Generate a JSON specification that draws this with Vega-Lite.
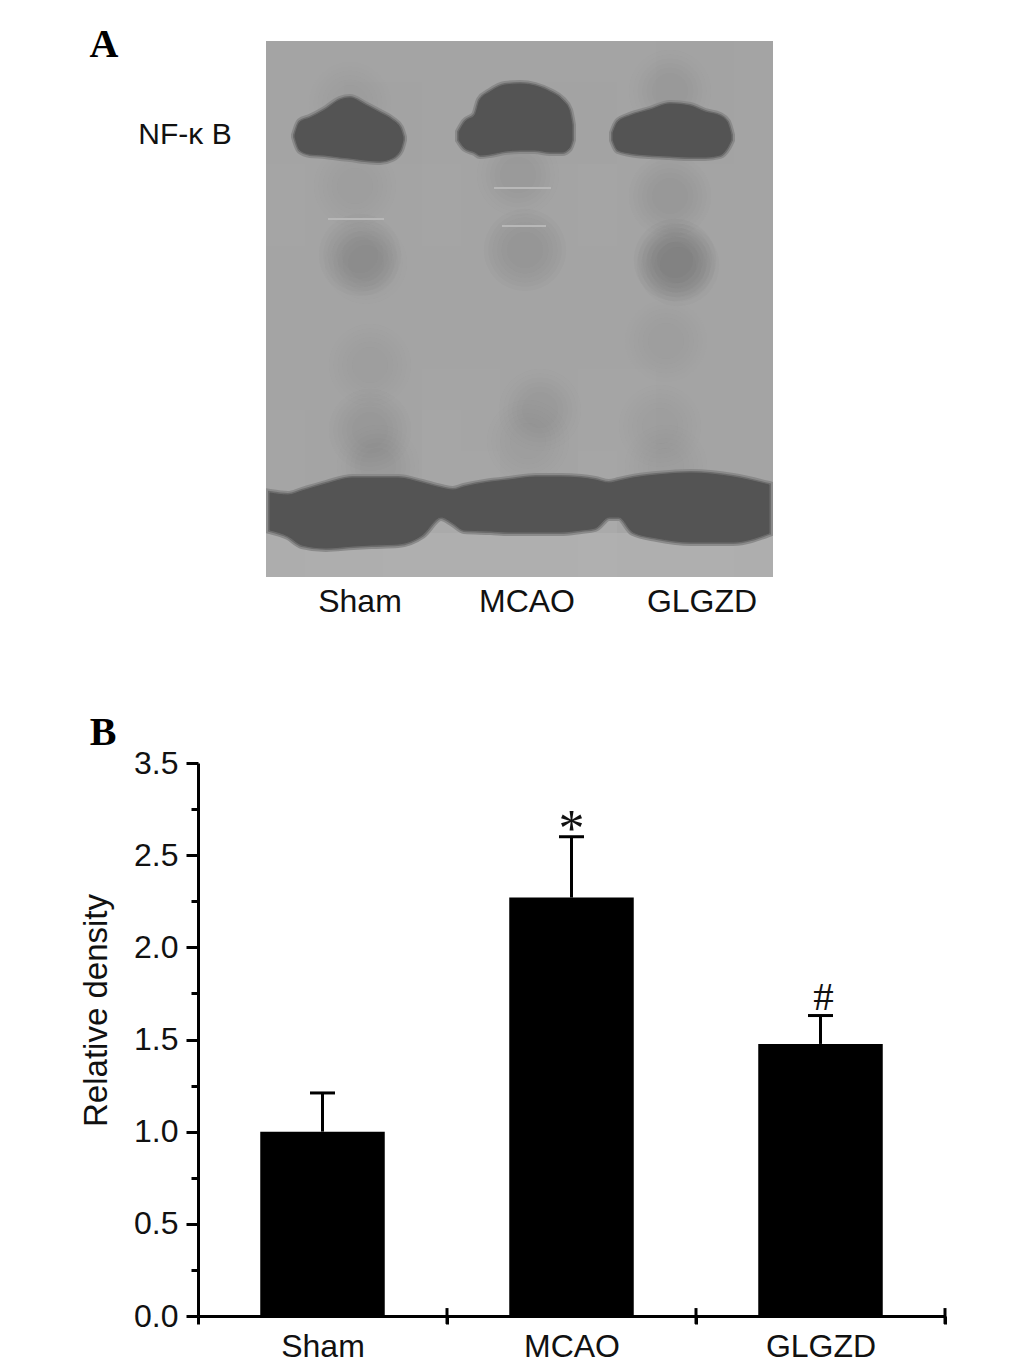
{"$schema":"https://vega.github.io/schema/vega-lite/v6.json","width":1033,"height":1367,"autosize":"none","padding":0,"background":"#ffffff","config":{"view":{"stroke":null},"text":{"font":"Liberation Sans"}},
"datasets":{
"bars":[{"group":"Sham","mean":1.0,"upper":1.21},{"group":"MCAO","mean":2.27,"upper":2.6,"note":"*","noteY":2.55},{"group":"GLGZD","mean":1.476,"upper":1.63,"note":"#","noteY":1.66}],
"edges":[{"edge":1,"lo":-0.043,"hi":0.043},{"edge":2,"lo":-0.043,"hi":0.043},{"edge":3,"lo":-0.043,"hi":0.043}],
"spots":[{"x":94,"y":214,"depth":0.09},{"x":100,"y":222,"depth":0.06},{"x":89,"y":145,"depth":0.05},{"x":104,"y":324,"depth":0.05},{"x":104,"y":389,"depth":0.07},{"x":112,"y":425,"depth":0.06},{"x":84,"y":62,"depth":0.04},{"x":259,"y":209,"depth":0.09},{"x":252,"y":134,"depth":0.06},{"x":274,"y":369,"depth":0.06},{"x":262,"y":400,"depth":0.05},{"x":409,"y":219,"depth":0.16},{"x":412,"y":224,"depth":0.14},{"x":404,"y":155,"depth":0.07},{"x":404,"y":50,"depth":0.06},{"x":400,"y":300,"depth":0.04},{"x":394,"y":385,"depth":0.05},{"x":400,"y":425,"depth":0.05}],
"bands":[
{"band":"Sham","x":29,"top":94,"bottom":96},{"band":"Sham","x":34,"top":81,"bottom":109},{"band":"Sham","x":44,"top":77,"bottom":113},{"band":"Sham","x":59,"top":69,"bottom":114},{"band":"Sham","x":74,"top":59,"bottom":116},{"band":"Sham","x":84,"top":57,"bottom":117},{"band":"Sham","x":99,"top":64,"bottom":119},{"band":"Sham","x":114,"top":72,"bottom":120},{"band":"Sham","x":126,"top":79,"bottom":117},{"band":"Sham","x":134,"top":87,"bottom":109},{"band":"Sham","x":137,"top":96,"bottom":99},
{"band":"MCAO","x":193,"top":91,"bottom":99},{"band":"MCAO","x":199,"top":81,"bottom":107},{"band":"MCAO","x":209,"top":74,"bottom":111},{"band":"MCAO","x":214,"top":59,"bottom":114},{"band":"MCAO","x":224,"top":51,"bottom":113},{"band":"MCAO","x":239,"top":44,"bottom":110},{"band":"MCAO","x":254,"top":43,"bottom":109},{"band":"MCAO","x":269,"top":45,"bottom":109},{"band":"MCAO","x":284,"top":51,"bottom":111},{"band":"MCAO","x":296,"top":59,"bottom":111},{"band":"MCAO","x":303,"top":69,"bottom":107},{"band":"MCAO","x":306,"top":84,"bottom":99},
{"band":"GLGZD","x":347,"top":92,"bottom":99},{"band":"GLGZD","x":352,"top":81,"bottom":109},{"band":"GLGZD","x":364,"top":75,"bottom":112},{"band":"GLGZD","x":384,"top":69,"bottom":114},{"band":"GLGZD","x":404,"top":63,"bottom":115},{"band":"GLGZD","x":424,"top":65,"bottom":116},{"band":"GLGZD","x":439,"top":71,"bottom":116},{"band":"GLGZD","x":454,"top":75,"bottom":114},{"band":"GLGZD","x":461,"top":81,"bottom":107},{"band":"GLGZD","x":465,"top":94,"bottom":99},
{"band":"front","x":4,"top":452,"bottom":489},{"band":"front","x":22,"top":454,"bottom":495},{"band":"front","x":36,"top":450,"bottom":504},{"band":"front","x":60,"top":443,"bottom":507},{"band":"front","x":87,"top":437,"bottom":505},{"band":"front","x":105,"top":437,"bottom":504},{"band":"front","x":132,"top":437,"bottom":503},{"band":"front","x":156,"top":442,"bottom":494},{"band":"front","x":175,"top":447,"bottom":476},{"band":"front","x":187,"top":449,"bottom":482},{"band":"front","x":198,"top":446,"bottom":489},{"band":"front","x":225,"top":441,"bottom":490},{"band":"front","x":243,"top":439,"bottom":491},{"band":"front","x":270,"top":436,"bottom":491},{"band":"front","x":294,"top":436,"bottom":491},{"band":"front","x":315,"top":437,"bottom":489},{"band":"front","x":329,"top":439,"bottom":487},{"band":"front","x":343,"top":442,"bottom":476},{"band":"front","x":353,"top":440,"bottom":476},{"band":"front","x":367,"top":437,"bottom":491},{"band":"front","x":391,"top":434,"bottom":497},{"band":"front","x":425,"top":432,"bottom":501},{"band":"front","x":467,"top":436,"bottom":501},{"band":"front","x":503,"top":444,"bottom":492}],
"streaks":[{"x":62,"x2":118,"y":178},{"x":228,"x2":285,"y":147},{"x":236,"x2":280,"y":185}],
"laneLabels":[{"x":94,"y":561,"t":"Sham"},{"x":261,"y":561,"t":"MCAO"},{"x":436,"y":561,"t":"GLGZD"}],
"protein":[{"x":-81,"y":94,"t":"NF-κ B"}],
"letters":[{"x":-162,"y":4,"t":"A"},{"x":-163,"y":692,"t":"B"}],
"cells":[
{"x0":0,"x1":39,"y0":0,"y1":41,"g":165},{"x0":39,"x1":78,"y0":0,"y1":41,"g":165},{"x0":78,"x1":117,"y0":0,"y1":41,"g":165},{"x0":117,"x1":156,"y0":0,"y1":41,"g":165},{"x0":156,"x1":195,"y0":0,"y1":41,"g":165},{"x0":195,"x1":234,"y0":0,"y1":41,"g":165},{"x0":234,"x1":273,"y0":0,"y1":41,"g":165},{"x0":273,"x1":312,"y0":0,"y1":41,"g":165},{"x0":312,"x1":351,"y0":0,"y1":41,"g":165},{"x0":351,"x1":390,"y0":0,"y1":41,"g":165},{"x0":390,"x1":429,"y0":0,"y1":41,"g":163},{"x0":429,"x1":468,"y0":0,"y1":41,"g":163},{"x0":468,"x1":507,"y0":0,"y1":41,"g":165},
{"x0":0,"x1":39,"y0":41,"y1":82,"g":165},{"x0":39,"x1":78,"y0":41,"y1":82,"g":164},{"x0":78,"x1":117,"y0":41,"y1":82,"g":162},{"x0":117,"x1":156,"y0":41,"y1":82,"g":162},{"x0":156,"x1":195,"y0":41,"y1":82,"g":165},{"x0":195,"x1":234,"y0":41,"y1":82,"g":164},{"x0":234,"x1":273,"y0":41,"y1":82,"g":162},{"x0":273,"x1":312,"y0":41,"y1":82,"g":162},{"x0":312,"x1":351,"y0":41,"y1":82,"g":163},{"x0":351,"x1":390,"y0":41,"y1":82,"g":165},{"x0":390,"x1":429,"y0":41,"y1":82,"g":163},{"x0":429,"x1":468,"y0":41,"y1":82,"g":163},{"x0":468,"x1":507,"y0":41,"y1":82,"g":165},
{"x0":0,"x1":39,"y0":82,"y1":123,"g":165},{"x0":39,"x1":78,"y0":82,"y1":123,"g":164},{"x0":78,"x1":117,"y0":82,"y1":123,"g":162},{"x0":117,"x1":156,"y0":82,"y1":123,"g":162},{"x0":156,"x1":195,"y0":82,"y1":123,"g":165},{"x0":195,"x1":234,"y0":82,"y1":123,"g":164},{"x0":234,"x1":273,"y0":82,"y1":123,"g":162},{"x0":273,"x1":312,"y0":82,"y1":123,"g":162},{"x0":312,"x1":351,"y0":82,"y1":123,"g":163},{"x0":351,"x1":390,"y0":82,"y1":123,"g":164},{"x0":390,"x1":429,"y0":82,"y1":123,"g":163},{"x0":429,"x1":468,"y0":82,"y1":123,"g":163},{"x0":468,"x1":507,"y0":82,"y1":123,"g":165},
{"x0":0,"x1":39,"y0":123,"y1":164,"g":168},{"x0":39,"x1":78,"y0":123,"y1":164,"g":165},{"x0":78,"x1":117,"y0":123,"y1":164,"g":165},{"x0":117,"x1":156,"y0":123,"y1":164,"g":165},{"x0":156,"x1":195,"y0":123,"y1":164,"g":167},{"x0":195,"x1":234,"y0":123,"y1":164,"g":165},{"x0":234,"x1":273,"y0":123,"y1":164,"g":165},{"x0":273,"x1":312,"y0":123,"y1":164,"g":165},{"x0":312,"x1":351,"y0":123,"y1":164,"g":167},{"x0":351,"x1":390,"y0":123,"y1":164,"g":165},{"x0":390,"x1":429,"y0":123,"y1":164,"g":165},{"x0":429,"x1":468,"y0":123,"y1":164,"g":165},{"x0":468,"x1":507,"y0":123,"y1":164,"g":165},
{"x0":0,"x1":39,"y0":164,"y1":205,"g":168},{"x0":39,"x1":78,"y0":164,"y1":205,"g":166},{"x0":78,"x1":117,"y0":164,"y1":205,"g":165},{"x0":117,"x1":156,"y0":164,"y1":205,"g":165},{"x0":156,"x1":195,"y0":164,"y1":205,"g":167},{"x0":195,"x1":234,"y0":164,"y1":205,"g":166},{"x0":234,"x1":273,"y0":164,"y1":205,"g":165},{"x0":273,"x1":312,"y0":164,"y1":205,"g":165},{"x0":312,"x1":351,"y0":164,"y1":205,"g":167},{"x0":351,"x1":390,"y0":164,"y1":205,"g":166},{"x0":390,"x1":429,"y0":164,"y1":205,"g":165},{"x0":429,"x1":468,"y0":164,"y1":205,"g":165},{"x0":468,"x1":507,"y0":164,"y1":205,"g":165},
{"x0":0,"x1":39,"y0":205,"y1":246,"g":165},{"x0":39,"x1":78,"y0":205,"y1":246,"g":165},{"x0":78,"x1":117,"y0":205,"y1":246,"g":165},{"x0":117,"x1":156,"y0":205,"y1":246,"g":165},{"x0":156,"x1":195,"y0":205,"y1":246,"g":165},{"x0":195,"x1":234,"y0":205,"y1":246,"g":165},{"x0":234,"x1":273,"y0":205,"y1":246,"g":165},{"x0":273,"x1":312,"y0":205,"y1":246,"g":165},{"x0":312,"x1":351,"y0":205,"y1":246,"g":165},{"x0":351,"x1":390,"y0":205,"y1":246,"g":165},{"x0":390,"x1":429,"y0":205,"y1":246,"g":165},{"x0":429,"x1":468,"y0":205,"y1":246,"g":165},{"x0":468,"x1":507,"y0":205,"y1":246,"g":165},
{"x0":0,"x1":39,"y0":246,"y1":287,"g":165},{"x0":39,"x1":78,"y0":246,"y1":287,"g":165},{"x0":78,"x1":117,"y0":246,"y1":287,"g":165},{"x0":117,"x1":156,"y0":246,"y1":287,"g":165},{"x0":156,"x1":195,"y0":246,"y1":287,"g":165},{"x0":195,"x1":234,"y0":246,"y1":287,"g":165},{"x0":234,"x1":273,"y0":246,"y1":287,"g":165},{"x0":273,"x1":312,"y0":246,"y1":287,"g":165},{"x0":312,"x1":351,"y0":246,"y1":287,"g":165},{"x0":351,"x1":390,"y0":246,"y1":287,"g":165},{"x0":390,"x1":429,"y0":246,"y1":287,"g":165},{"x0":429,"x1":468,"y0":246,"y1":287,"g":165},{"x0":468,"x1":507,"y0":246,"y1":287,"g":165},
{"x0":0,"x1":39,"y0":287,"y1":328,"g":165},{"x0":39,"x1":78,"y0":287,"y1":328,"g":165},{"x0":78,"x1":117,"y0":287,"y1":328,"g":165},{"x0":117,"x1":156,"y0":287,"y1":328,"g":165},{"x0":156,"x1":195,"y0":287,"y1":328,"g":165},{"x0":195,"x1":234,"y0":287,"y1":328,"g":165},{"x0":234,"x1":273,"y0":287,"y1":328,"g":165},{"x0":273,"x1":312,"y0":287,"y1":328,"g":165},{"x0":312,"x1":351,"y0":287,"y1":328,"g":165},{"x0":351,"x1":390,"y0":287,"y1":328,"g":165},{"x0":390,"x1":429,"y0":287,"y1":328,"g":165},{"x0":429,"x1":468,"y0":287,"y1":328,"g":165},{"x0":468,"x1":507,"y0":287,"y1":328,"g":165},
{"x0":0,"x1":39,"y0":328,"y1":369,"g":165},{"x0":39,"x1":78,"y0":328,"y1":369,"g":165},{"x0":78,"x1":117,"y0":328,"y1":369,"g":165},{"x0":117,"x1":156,"y0":328,"y1":369,"g":165},{"x0":156,"x1":195,"y0":328,"y1":369,"g":167},{"x0":195,"x1":234,"y0":328,"y1":369,"g":167},{"x0":234,"x1":273,"y0":328,"y1":369,"g":165},{"x0":273,"x1":312,"y0":328,"y1":369,"g":165},{"x0":312,"x1":351,"y0":328,"y1":369,"g":168},{"x0":351,"x1":390,"y0":328,"y1":369,"g":167},{"x0":390,"x1":429,"y0":328,"y1":369,"g":165},{"x0":429,"x1":468,"y0":328,"y1":369,"g":165},{"x0":468,"x1":507,"y0":328,"y1":369,"g":165},
{"x0":0,"x1":39,"y0":369,"y1":410,"g":168},{"x0":39,"x1":78,"y0":369,"y1":410,"g":166},{"x0":78,"x1":117,"y0":369,"y1":410,"g":165},{"x0":117,"x1":156,"y0":369,"y1":410,"g":165},{"x0":156,"x1":195,"y0":369,"y1":410,"g":170},{"x0":195,"x1":234,"y0":369,"y1":410,"g":168},{"x0":234,"x1":273,"y0":369,"y1":410,"g":165},{"x0":273,"x1":312,"y0":369,"y1":410,"g":165},{"x0":312,"x1":351,"y0":369,"y1":410,"g":168},{"x0":351,"x1":390,"y0":369,"y1":410,"g":168},{"x0":390,"x1":429,"y0":369,"y1":410,"g":165},{"x0":429,"x1":468,"y0":369,"y1":410,"g":165},{"x0":468,"x1":507,"y0":369,"y1":410,"g":165},
{"x0":0,"x1":39,"y0":410,"y1":451,"g":168},{"x0":39,"x1":78,"y0":410,"y1":451,"g":165},{"x0":78,"x1":117,"y0":410,"y1":451,"g":165},{"x0":117,"x1":156,"y0":410,"y1":451,"g":165},{"x0":156,"x1":195,"y0":410,"y1":451,"g":172},{"x0":195,"x1":234,"y0":410,"y1":451,"g":170},{"x0":234,"x1":273,"y0":410,"y1":451,"g":165},{"x0":273,"x1":312,"y0":410,"y1":451,"g":165},{"x0":312,"x1":351,"y0":410,"y1":451,"g":170},{"x0":351,"x1":390,"y0":410,"y1":451,"g":168},{"x0":390,"x1":429,"y0":410,"y1":451,"g":165},{"x0":429,"x1":468,"y0":410,"y1":451,"g":165},{"x0":468,"x1":507,"y0":410,"y1":451,"g":165},
{"x0":0,"x1":39,"y0":451,"y1":492,"g":168},{"x0":39,"x1":78,"y0":451,"y1":492,"g":165},{"x0":78,"x1":117,"y0":451,"y1":492,"g":165},{"x0":117,"x1":156,"y0":451,"y1":492,"g":165},{"x0":156,"x1":195,"y0":451,"y1":492,"g":185},{"x0":195,"x1":234,"y0":451,"y1":492,"g":170},{"x0":234,"x1":273,"y0":451,"y1":492,"g":165},{"x0":273,"x1":312,"y0":451,"y1":492,"g":165},{"x0":312,"x1":351,"y0":451,"y1":492,"g":185},{"x0":351,"x1":390,"y0":451,"y1":492,"g":170},{"x0":390,"x1":429,"y0":451,"y1":492,"g":165},{"x0":429,"x1":468,"y0":451,"y1":492,"g":165},{"x0":468,"x1":507,"y0":451,"y1":492,"g":165},
{"x0":0,"x1":39,"y0":492,"y1":536,"g":195},{"x0":39,"x1":78,"y0":492,"y1":536,"g":198},{"x0":78,"x1":117,"y0":492,"y1":536,"g":198},{"x0":117,"x1":156,"y0":492,"y1":536,"g":200},{"x0":156,"x1":195,"y0":492,"y1":536,"g":202},{"x0":195,"x1":234,"y0":492,"y1":536,"g":202},{"x0":234,"x1":273,"y0":492,"y1":536,"g":202},{"x0":273,"x1":312,"y0":492,"y1":536,"g":202},{"x0":312,"x1":351,"y0":492,"y1":536,"g":205},{"x0":351,"x1":390,"y0":492,"y1":536,"g":200},{"x0":390,"x1":429,"y0":492,"y1":536,"g":200},{"x0":429,"x1":468,"y0":492,"y1":536,"g":200},{"x0":468,"x1":507,"y0":492,"y1":536,"g":198}]
},
"resolve":{"scale":{"x":"independent","y":"independent","color":"independent","opacity":"independent"},"axis":{"x":"independent","y":"independent"}},
"layer":[
{"data":{"name":"cells"},"mark":{"type":"rect","stroke":null},"encoding":{
"x":{"field":"x0","type":"quantitative","axis":null,"scale":{"domain":[0,507],"range":[266,773],"nice":false,"zero":false}},"x2":{"field":"x1"},
"y":{"field":"y0","type":"quantitative","axis":null,"scale":{"domain":[0,536],"range":[41,577],"nice":false,"zero":false}},"y2":{"field":"y1"},
"color":{"field":"g","type":"quantitative","legend":null,"scale":{"domain":[0,255],"range":["#737373","#c0c0c0"]}}}},
{"data":{"name":"spots"},"mark":{"type":"circle","color":"#4a4a4a","size":6800},"encoding":{
"x":{"field":"x","type":"quantitative","axis":null,"scale":{"domain":[0,507],"range":[266,773],"nice":false,"zero":false}},
"y":{"field":"y","type":"quantitative","axis":null,"scale":{"domain":[0,536],"range":[41,577],"nice":false,"zero":false}},
"opacity":{"field":"depth","type":"quantitative","legend":null,"scale":{"domain":[0,1],"range":[0,0.2]}}}},
{"data":{"name":"spots"},"mark":{"type":"circle","color":"#4a4a4a","size":5400},"encoding":{
"x":{"field":"x","type":"quantitative","axis":null,"scale":{"domain":[0,507],"range":[266,773],"nice":false,"zero":false}},
"y":{"field":"y","type":"quantitative","axis":null,"scale":{"domain":[0,536],"range":[41,577],"nice":false,"zero":false}},
"opacity":{"field":"depth","type":"quantitative","legend":null,"scale":{"domain":[0,1],"range":[0,0.2]}}}},
{"data":{"name":"spots"},"mark":{"type":"circle","color":"#4a4a4a","size":4200},"encoding":{
"x":{"field":"x","type":"quantitative","axis":null,"scale":{"domain":[0,507],"range":[266,773],"nice":false,"zero":false}},
"y":{"field":"y","type":"quantitative","axis":null,"scale":{"domain":[0,536],"range":[41,577],"nice":false,"zero":false}},
"opacity":{"field":"depth","type":"quantitative","legend":null,"scale":{"domain":[0,1],"range":[0,0.25]}}}},
{"data":{"name":"spots"},"mark":{"type":"circle","color":"#4a4a4a","size":3100},"encoding":{
"x":{"field":"x","type":"quantitative","axis":null,"scale":{"domain":[0,507],"range":[266,773],"nice":false,"zero":false}},
"y":{"field":"y","type":"quantitative","axis":null,"scale":{"domain":[0,536],"range":[41,577],"nice":false,"zero":false}},
"opacity":{"field":"depth","type":"quantitative","legend":null,"scale":{"domain":[0,1],"range":[0,0.25]}}}},
{"data":{"name":"spots"},"mark":{"type":"circle","color":"#4a4a4a","size":2200},"encoding":{
"x":{"field":"x","type":"quantitative","axis":null,"scale":{"domain":[0,507],"range":[266,773],"nice":false,"zero":false}},
"y":{"field":"y","type":"quantitative","axis":null,"scale":{"domain":[0,536],"range":[41,577],"nice":false,"zero":false}},
"opacity":{"field":"depth","type":"quantitative","legend":null,"scale":{"domain":[0,1],"range":[0,0.25]}}}},
{"data":{"name":"spots"},"mark":{"type":"circle","color":"#4a4a4a","size":1300},"encoding":{
"x":{"field":"x","type":"quantitative","axis":null,"scale":{"domain":[0,507],"range":[266,773],"nice":false,"zero":false}},
"y":{"field":"y","type":"quantitative","axis":null,"scale":{"domain":[0,536],"range":[41,577],"nice":false,"zero":false}},
"opacity":{"field":"depth","type":"quantitative","legend":null,"scale":{"domain":[0,1],"range":[0,0.25]}}}},
{"data":{"name":"streaks"},"mark":{"type":"rule","stroke":"#b8b8b8","strokeWidth":2},"encoding":{
"x":{"field":"x","type":"quantitative","axis":null,"scale":{"domain":[0,507],"range":[266,773],"nice":false,"zero":false}},"x2":{"field":"x2"},
"y":{"field":"y","type":"quantitative","axis":null,"scale":{"domain":[0,536],"range":[41,577],"nice":false,"zero":false}}}},
{"data":{"name":"bands"},"mark":{"type":"area","interpolate":"monotone","fill":"#8a8a8a","stroke":"#8a8a8a","strokeWidth":8},"encoding":{
"x":{"field":"x","type":"quantitative","axis":null,"scale":{"domain":[0,507],"range":[266,773],"nice":false,"zero":false}},
"y":{"field":"top","type":"quantitative","axis":null,"scale":{"domain":[0,536],"range":[41,577],"nice":false,"zero":false}},"y2":{"field":"bottom"},"detail":{"field":"band"}}},
{"data":{"name":"bands"},"mark":{"type":"area","interpolate":"monotone","fill":"#6c6c6c","stroke":"#6c6c6c","strokeWidth":4},"encoding":{
"x":{"field":"x","type":"quantitative","axis":null,"scale":{"domain":[0,507],"range":[266,773],"nice":false,"zero":false}},
"y":{"field":"top","type":"quantitative","axis":null,"scale":{"domain":[0,536],"range":[41,577],"nice":false,"zero":false}},"y2":{"field":"bottom"},"detail":{"field":"band"}}},
{"data":{"name":"bands"},"mark":{"type":"area","interpolate":"monotone","fill":"#545454","stroke":"#545454","strokeWidth":1},"encoding":{
"x":{"field":"x","type":"quantitative","axis":null,"scale":{"domain":[0,507],"range":[266,773],"nice":false,"zero":false}},
"y":{"field":"top","type":"quantitative","axis":null,"scale":{"domain":[0,536],"range":[41,577],"nice":false,"zero":false}},"y2":{"field":"bottom"},"detail":{"field":"band"}}},
{"data":{"name":"laneLabels"},"mark":{"type":"text","font":"Liberation Sans","fontSize":32,"align":"center","baseline":"middle","color":"#111111"},"encoding":{
"x":{"field":"x","type":"quantitative","axis":null,"scale":{"domain":[0,507],"range":[266,773],"nice":false,"zero":false}},
"y":{"field":"y","type":"quantitative","axis":null,"scale":{"domain":[0,536],"range":[41,577],"nice":false,"zero":false}},"text":{"field":"t"}}},
{"data":{"name":"protein"},"mark":{"type":"text","font":"Liberation Sans","fontSize":30,"align":"center","baseline":"middle","color":"#111111"},"encoding":{
"x":{"field":"x","type":"quantitative","axis":null,"scale":{"domain":[0,507],"range":[266,773],"nice":false,"zero":false}},
"y":{"field":"y","type":"quantitative","axis":null,"scale":{"domain":[0,536],"range":[41,577],"nice":false,"zero":false}},"text":{"field":"t"}}},
{"data":{"name":"letters"},"mark":{"type":"text","font":"Liberation Serif","fontWeight":"bold","fontSize":40,"align":"center","baseline":"middle","color":"#000000"},"encoding":{
"x":{"field":"x","type":"quantitative","axis":null,"scale":{"domain":[0,507],"range":[266,773],"nice":false,"zero":false}},
"y":{"field":"y","type":"quantitative","axis":null,"scale":{"domain":[0,536],"range":[41,577],"nice":false,"zero":false}},"text":{"field":"t"}}},
{"data":{"name":"edges"},"mark":{"type":"rule","stroke":"#000000","strokeWidth":3},"encoding":{
"x":{"field":"edge","type":"quantitative","axis":null,"scale":{"domain":[0,3],"range":[198,945],"nice":false,"zero":false}},
"y":{"field":"lo","type":"quantitative","scale":{"domain":[0,3],"range":[1316,763],"nice":false,"zero":false},
"axis":{"orient":"left","offset":-198,"values":[0.25,0.75,1.25,1.75,2.25,2.75],"labels":false,"domain":false,"grid":false,"title":null,"tickSize":7,"tickWidth":3,"tickColor":"#000000"}},"y2":{"field":"hi"}}},
{"data":{"name":"bars"},"mark":{"type":"bar","color":"#000000","width":{"band":0.5}},"encoding":{
"x":{"field":"group","type":"nominal","sort":["Sham","MCAO","GLGZD"],"scale":{"range":[198,945],"paddingInner":0,"paddingOuter":0},
"axis":{"orient":"bottom","offset":-51,"title":null,"labelAngle":0,"tickBand":"extent","tickSize":8,"tickWidth":3,"tickColor":"#000000","domainWidth":3,"domainColor":"#000000","labelFont":"Liberation Sans","labelFontSize":32,"labelColor":"#111111","labelPadding":7,"grid":false}},
"y":{"field":"mean","type":"quantitative","scale":{"domain":[0,3],"range":[1316,763],"nice":false,"zero":true},
"axis":{"orient":"left","offset":-198,"values":[0,0.5,1,1.5,2,2.5,3],"labelExpr":"datum.value==3?'3.5':format(datum.value,'.1f')","tickSize":12,"tickWidth":3,"tickColor":"#000000","domainWidth":3,"domainColor":"#000000","labelFont":"Liberation Sans","labelFontSize":32,"labelColor":"#111111","labelPadding":8,"grid":false,"labelOverlap":false,"title":"Relative density","titleFont":"Liberation Sans","titleFontWeight":"normal","titleFontSize":33,"titleColor":"#111111","titleX":-85,"titleY":1010}}}},
{"data":{"name":"bars"},"mark":{"type":"rule","stroke":"#000000","strokeWidth":3},"encoding":{
"x":{"field":"group","type":"nominal","sort":["Sham","MCAO","GLGZD"],"axis":null,"scale":{"range":[198,945],"paddingInner":0,"paddingOuter":0}},
"y":{"field":"mean","type":"quantitative","axis":null,"scale":{"domain":[0,3],"range":[1316,763],"nice":false,"zero":true}},"y2":{"field":"upper"}}},
{"data":{"name":"bars"},"mark":{"type":"tick","orient":"horizontal","color":"#000000","size":25,"thickness":3,"opacity":1},"encoding":{
"x":{"field":"group","type":"nominal","sort":["Sham","MCAO","GLGZD"],"axis":null,"scale":{"range":[198,945],"paddingInner":0,"paddingOuter":0}},
"y":{"field":"upper","type":"quantitative","axis":null,"scale":{"domain":[0,3],"range":[1316,763],"nice":false,"zero":true}}}},
{"data":{"name":"bars"},"transform":[{"filter":"datum.note=='*'"}],"mark":{"type":"text","font":"Liberation Serif","fontSize":52,"align":"center","baseline":"alphabetic","color":"#111111"},"encoding":{
"x":{"field":"group","type":"nominal","sort":["Sham","MCAO","GLGZD"],"axis":null,"scale":{"domain":["Sham","MCAO","GLGZD"],"range":[198,945],"paddingInner":0,"paddingOuter":0}},
"y":{"field":"noteY","type":"quantitative","axis":null,"scale":{"domain":[0,3],"range":[1316,763],"nice":false,"zero":true}},"text":{"field":"note"}}},
{"data":{"name":"bars"},"transform":[{"filter":"datum.note=='#'"}],"mark":{"type":"text","font":"Liberation Serif","fontSize":41,"dx":3,"align":"center","baseline":"alphabetic","color":"#111111"},"encoding":{
"x":{"field":"group","type":"nominal","sort":["Sham","MCAO","GLGZD"],"axis":null,"scale":{"domain":["Sham","MCAO","GLGZD"],"range":[198,945],"paddingInner":0,"paddingOuter":0}},
"y":{"field":"noteY","type":"quantitative","axis":null,"scale":{"domain":[0,3],"range":[1316,763],"nice":false,"zero":true}},"text":{"field":"note"}}}
]}
